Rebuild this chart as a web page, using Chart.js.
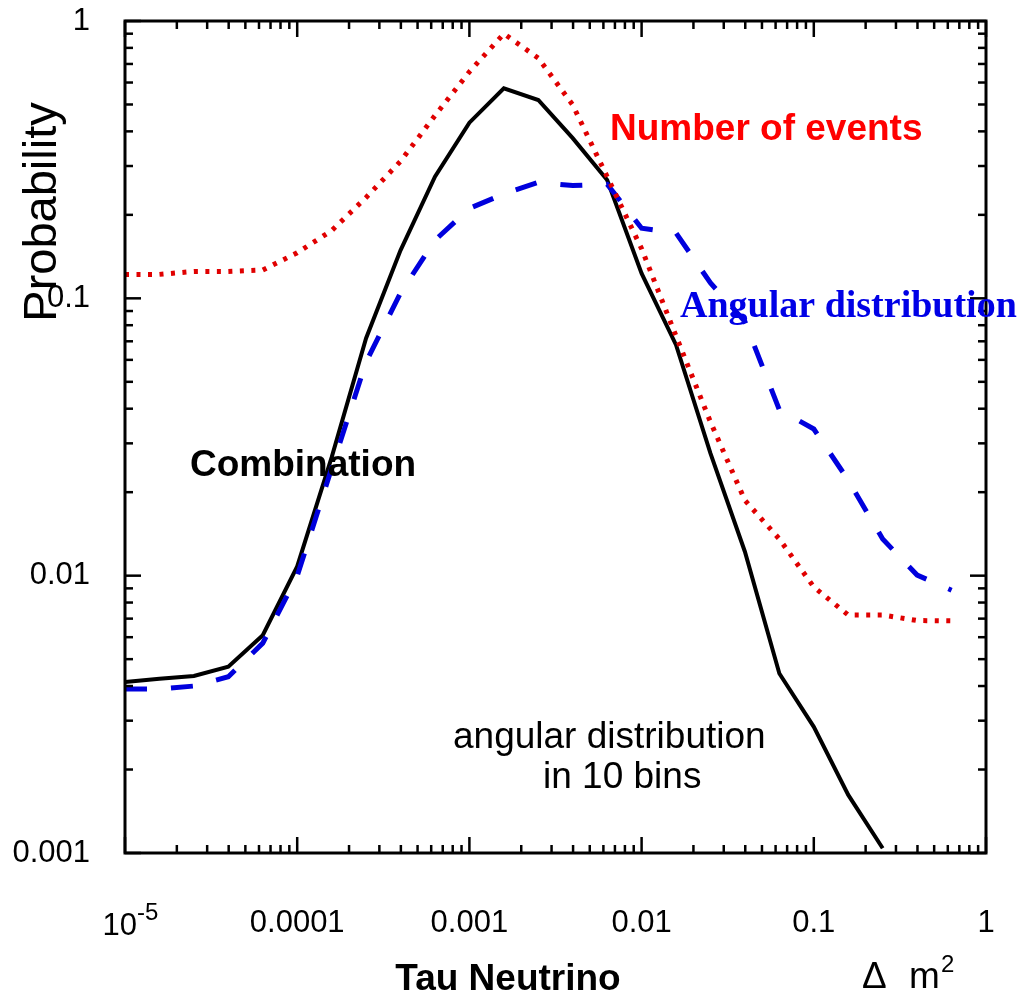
<!DOCTYPE html>
<html>
<head>
<meta charset="utf-8">
<script src="https://cdn.jsdelivr.net/npm/chart.js@4.4.1/dist/chart.umd.min.js"></script>
<style>
  html, body { margin: 0; padding: 0; background: #fff; }
  #chart { display: block; }
</style>
</head>
<body>
<canvas id="chart" width="1019" height="995"></canvas>
<script>
// delta m^2 grid (eV^2), five points per decade
const dm2 = [
  1e-5, 1.585e-5, 2.512e-5, 3.981e-5, 6.31e-5,
  1e-4, 1.585e-4, 2.512e-4, 3.981e-4, 6.31e-4,
  1e-3, 1.585e-3, 2.512e-3, 3.981e-3, 6.31e-3,
  0.01, 0.01585, 0.02512, 0.03981, 0.0631,
  0.1, 0.1585, 0.2512, 0.3981, 0.631
];

// probabilities
const combination = [
  0.00414, 0.00425, 0.00435, 0.0047, 0.0061,
  0.0108, 0.0267, 0.0718, 0.149, 0.2745,
  0.43, 0.572, 0.519, 0.378, 0.267,
  0.123, 0.0679, 0.0276, 0.0122, 0.00444,
  0.00285, 0.00162, 0.00104
];
const numberOfEvents = [
  0.122, 0.122, 0.125, 0.125, 0.1265,
  0.146, 0.1755, 0.231, 0.312, 0.456,
  0.656, 0.9, 0.735, 0.498, 0.2745,
  0.151, 0.0731, 0.0358, 0.0187, 0.01355,
  0.0091, 0.00721, 0.00721, 0.00689, 0.00687
];
const angularDist = [
  0.0039, 0.0039, 0.0040, 0.00432, 0.00571,
  0.00997, 0.0244, 0.059, 0.1045, 0.162,
  0.211, 0.238, 0.262, 0.255, 0.258,
  0.179, 0.172, 0.1136, 0.0824, 0.0396,
  0.0338, 0.0221, 0.01355, 0.01005, 0.00886
];

const xTickValues = [1e-5, 1e-4, 1e-3, 1e-2, 1e-1, 1];
const xTickLabels = ['10', '0.0001', '0.001', '0.01', '0.1', '1'];
const xFirstExponent = '-5';
const yTickValues = [0.001, 0.01, 0.1, 1];
const yTickLabels = ['0.001', '0.01', '0.1', '1'];

function toPoints(ys) {
  return ys.map((v, i) => ({x: dm2[i], y: v}));
}

function findTick(values, v) {
  for (let i = 0; i < values.length; i++)
    if (Math.abs(Math.log10(v) - Math.log10(values[i])) < 1e-6) return i;
  return -1;
}

Chart.defaults.font.family = "'Liberation Sans', Arial, sans-serif";
Chart.defaults.color = '#000';

// inward ticks on all four sides plus the box
const framePlugin = {
  id: 'frame',
  afterDatasetsDraw(chart) {
    const ctx = chart.ctx;
    const a = chart.chartArea;
    const xs = chart.scales.x, ys = chart.scales.y;
    ctx.save();
    ctx.strokeStyle = '#000';
    ctx.lineWidth = 2.5;
    function seg(x1, y1, x2, y2) {
      ctx.beginPath(); ctx.moveTo(x1, y1); ctx.lineTo(x2, y2); ctx.stroke();
    }
    for (let d = -5; d <= 0; d++) {
      for (let m = 1; m <= 9; m++) {
        const v = m * Math.pow(10, d);
        if (v > 1.0001) break;
        const px = xs.getPixelForValue(v);
        const len = m === 1 ? 16 : 8;
        seg(px, a.bottom, px, a.bottom - len);
        seg(px, a.top, px, a.top + len);
      }
    }
    for (let d = -3; d <= 0; d++) {
      for (let m = 1; m <= 9; m++) {
        const v = m * Math.pow(10, d);
        if (v > 1.0001) break;
        const py = ys.getPixelForValue(v);
        const len = m === 1 ? 16 : 8;
        seg(a.left, py, a.left + len, py);
        seg(a.right, py, a.right - len, py);
      }
    }
    ctx.lineWidth = 3;
    ctx.strokeRect(a.left, a.top, a.right - a.left, a.bottom - a.top);
    ctx.restore();
  },
  afterDraw(chart) {
    const ctx = chart.ctx;
    const xs = chart.scales.x;
    ctx.save();
    // 10^-5 label
    const p0 = xs.getPixelForValue(xTickValues[0]);
    ctx.fillStyle = '#000';
    ctx.textBaseline = 'alphabetic';
    ctx.font = "31px 'Liberation Sans'";
    ctx.textAlign = 'right';
    ctx.fillText(xTickLabels[0], p0 + 12, 935);
    ctx.font = "24px 'Liberation Sans'";
    ctx.textAlign = 'left';
    ctx.fillText(xFirstExponent, p0 + 12, 920);

    // axis titles
    ctx.font = "bold 37px 'Liberation Sans'";
    ctx.textAlign = 'center';
    ctx.fillText('Tau Neutrino', 508, 990);
    ctx.font = "37px 'Liberation Sans'";
    ctx.textAlign = 'left';
    ctx.fillText('\u0394', 862, 988);
    ctx.fillText('m', 909, 988);
    ctx.font = "24px 'Liberation Sans'";
    ctx.fillText('2', 941, 972);

    ctx.save();
    ctx.translate(56, 212);
    ctx.rotate(-Math.PI / 2);
    ctx.font = "47px 'Liberation Sans'";
    ctx.textAlign = 'center';
    ctx.fillText('Probability', 0, 0);
    ctx.restore();

    // curve annotations
    ctx.textAlign = 'left';
    ctx.font = "bold 37px 'Liberation Sans'";
    ctx.fillStyle = '#ff0000';
    ctx.fillText('Number of events', 610, 140);
    ctx.fillStyle = '#000';
    ctx.fillText('Combination', 190, 476);
    ctx.font = "bold 38px 'Liberation Serif'";
    ctx.fillStyle = '#0000e6';
    ctx.fillText('Angular distribution', 680, 317);
    ctx.font = "37px 'Liberation Sans'";
    ctx.fillStyle = '#000';
    ctx.fillText('angular distribution', 453, 748);
    ctx.fillText('in 10 bins', 543, 788);
    ctx.restore();
  }
};

new Chart(document.getElementById('chart'), {
  type: 'line',
  data: {
    datasets: [
      {
        label: 'Number of events',
        data: toPoints(numberOfEvents),
        borderColor: '#e00000',
        borderWidth: 5,
        borderDash: [4, 7.5],
        pointRadius: 0,
        tension: 0
      },
      {
        label: 'Angular distribution',
        data: toPoints(angularDist),
        borderColor: '#0000dd',
        borderWidth: 5,
        borderDash: [22, 24],
        pointRadius: 0,
        tension: 0
      },
      {
        label: 'Combination',
        data: toPoints(combination),
        borderColor: '#000',
        borderWidth: 4,
        pointRadius: 0,
        tension: 0
      }
    ]
  },
  options: {
    responsive: false,
    animation: false,
    layout: { padding: { top: 21, right: 33, left: 0, bottom: 0 } },
    plugins: { legend: { display: false }, tooltip: { enabled: false } },
    scales: {
      x: {
        type: 'logarithmic',
        min: 1e-5,
        max: 1,
        grid: { display: false, drawTicks: false },
        border: { display: false },
        afterFit(scale) {
          scale.height = 142;
          scale.paddingLeft = 0;
          scale.paddingRight = 0;
        },
        ticks: {
          autoSkip: false,
          maxRotation: 0,
          padding: 52,
          font: { size: 31 },
          callback(v) {
            const i = findTick(xTickValues, v);
            return i > 0 ? xTickLabels[i] : '';
          }
        }
      },
      y: {
        type: 'logarithmic',
        min: 0.001,
        max: 1,
        grid: { display: false, drawTicks: false },
        border: { display: false },
        afterFit(scale) {
          scale.width = 125;
          scale.paddingTop = 0;
          scale.paddingBottom = 0;
        },
        ticks: {
          autoSkip: false,
          padding: 35,
          font: { size: 31 },
          callback(v) {
            const i = findTick(yTickValues, v);
            return i >= 0 ? yTickLabels[i] : '';
          }
        }
      }
    }
  },
  plugins: [framePlugin]
});
</script>
</body>
</html>
